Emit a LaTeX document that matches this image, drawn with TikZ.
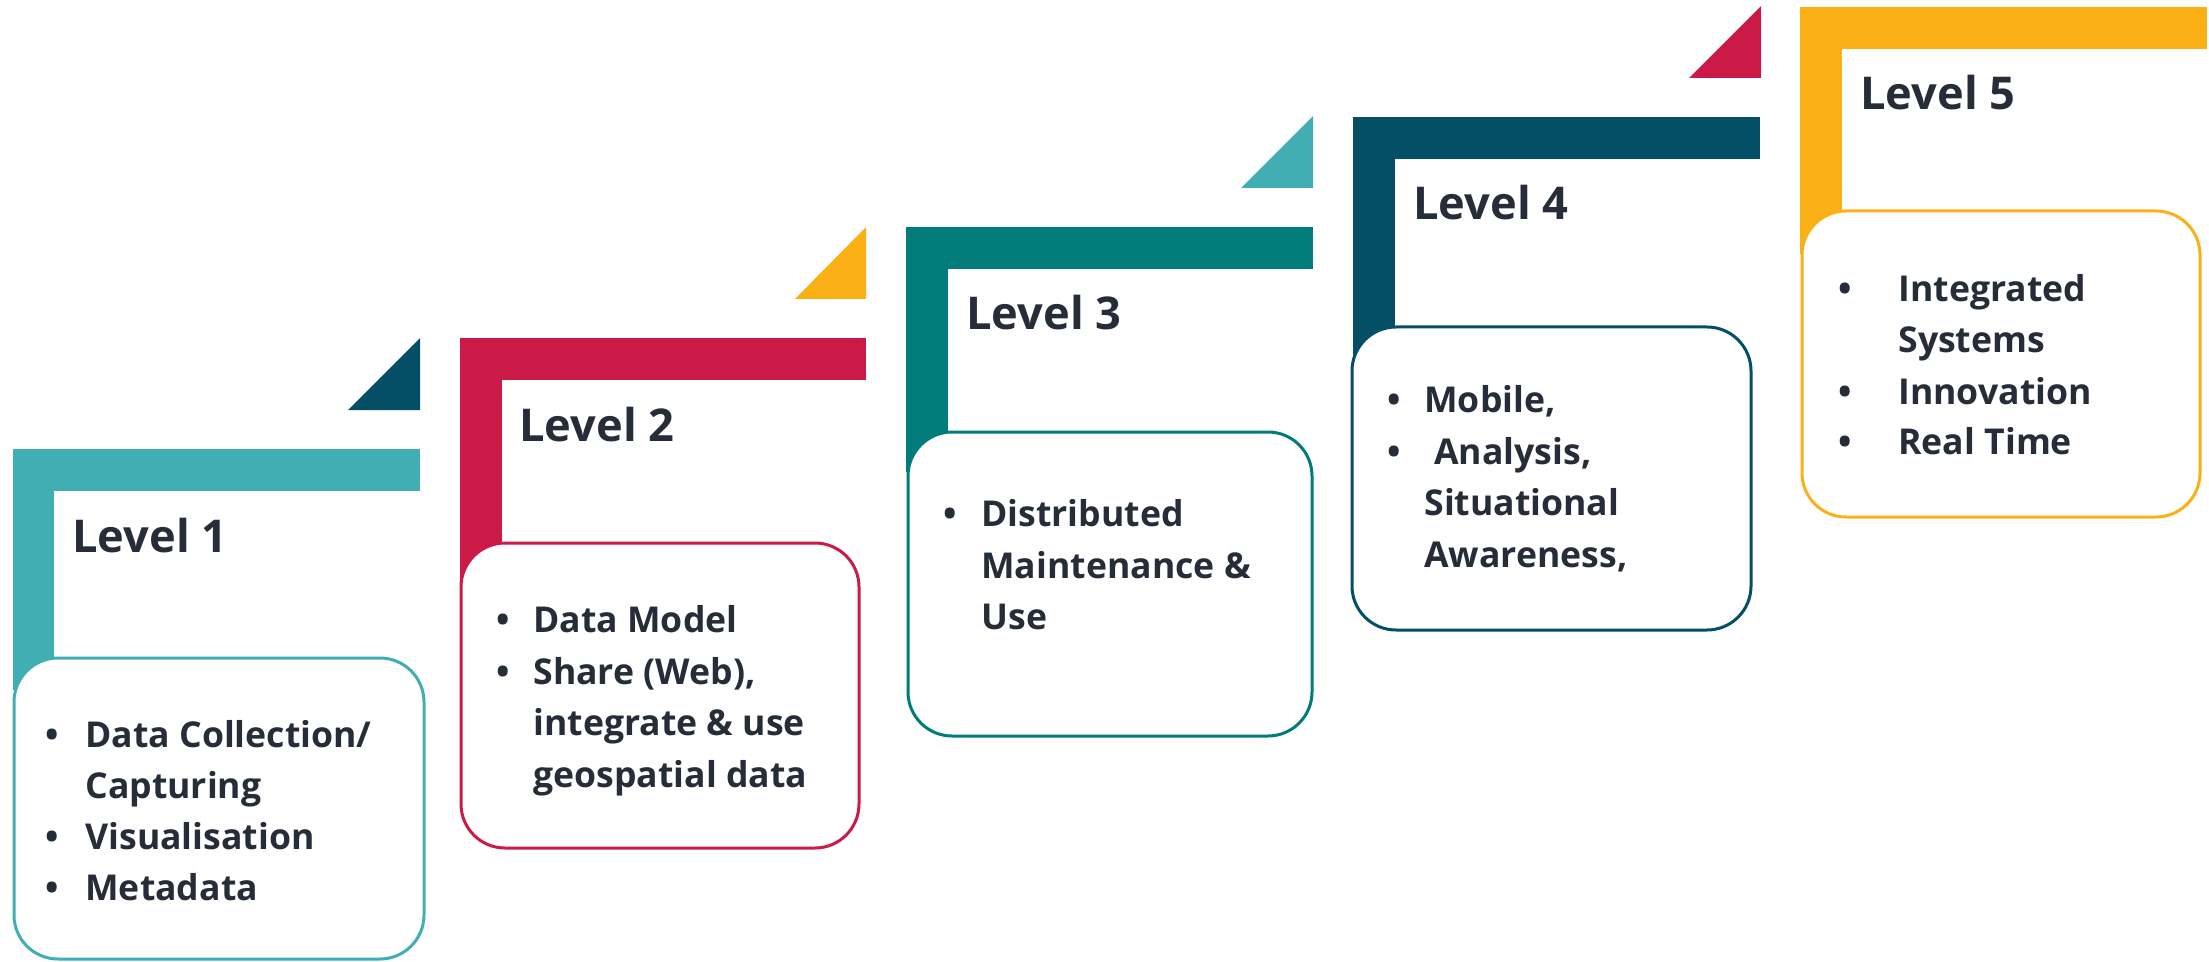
\documentclass[tikz,border=0pt]{standalone}
\usepackage{fontspec}
\setmainfont{Open Sans}
\definecolor{lteal}{HTML}{41AEB4}
\definecolor{crim}{HTML}{CC1A48}
\definecolor{dteal}{HTML}{027B7B}
\definecolor{petrol}{HTML}{054F66}
\definecolor{amber}{HTML}{FBB116}
\definecolor{ink}{HTML}{262D38}
\begin{document}
\begin{tikzpicture}[x=0.5pt,y=-0.5pt,
  box/.style={draw, line width=1.5pt, fill=white, rounded corners=22pt},
  head/.style={anchor=base west, inner sep=0, font=\bfseries\fontsize{22.6}{27}\selectfont, text=ink},
  item/.style={anchor=base west, inner sep=0, font=\bfseries\fontsize{17.8}{25.5}\selectfont, text=ink},
  dot/.style={anchor=base, inner sep=0, font=\bfseries\fontsize{17.8}{25.5}\selectfont, text=ink}]
\useasboundingbox (0,0) rectangle (2209,962);
% ---------- Level 1
\fill[lteal] (13,449) rectangle (420,491);
\fill[lteal] (13,449) rectangle (54,690);
\fill[petrol] (348,410) -- (420,410) -- (420,338) -- cycle;
\draw[box, draw=lteal] (14,658) rectangle (424,959);
\node[head] (h1) at (72,552) {Level 1};
\node[dot] (b11) at (52,747) {•};
\node[item] (t11) at (85,747) {Data Collection/};
\node[item] (t12) at (85,798) {Capturing};
\node[dot] (b12) at (52,849) {•};
\node[item] (t13) at (85,849) {Visualisation};
\node[dot] (b13) at (52,900) {•};
\node[item] (t14) at (85,900) {Metadata};
% ---------- Level 2
\fill[crim] (460,338) rectangle (866,380);
\fill[crim] (460,338) rectangle (502,581);
\fill[amber] (795,299) -- (866,299) -- (866,227) -- cycle;
\draw[box, draw=crim] (461,543) rectangle (859,848);
\node[head] (h2) at (519,441) {Level 2};
\node[dot] (b21) at (503,632) {•};
\node[item] (t21) at (533,632) {Data Model};
\node[dot] (b22) at (503,684) {•};
\node[item] (t22) at (533,684) {Share (Web),};
\node[item] (t23) at (533,735) {integrate \& use};
\node[item] (t24) at (533,787) {geospatial data};
% ---------- Level 3
\fill[dteal] (906,227) rectangle (1313,269);
\fill[dteal] (906,227) rectangle (948,472);
\fill[lteal] (1241,188) -- (1313,188) -- (1313,116) -- cycle;
\draw[box, draw=dteal] (908,432) rectangle (1312,736);
\node[head] (h3) at (966,330) {Level 3};
\node[dot] (b31) at (950,526) {•};
\node[item] (t31) at (981,526) {Distributed};
\node[item] (t32) at (981,578) {Maintenance \&};
\node[item] (t33) at (981,629) {Use};
% ---------- Level 4
\fill[petrol] (1353,117) rectangle (1760,159);
\fill[petrol] (1353,117) rectangle (1395,363);
\fill[crim] (1689,78) -- (1761,78) -- (1761,6) -- cycle;
\draw[box, draw=petrol] (1352,327) rectangle (1751,630);
\node[head] (h4) at (1413,220) {Level 4};
\node[dot] (b41) at (1394,412) {•};
\node[item] (t41) at (1424,412) {Mobile,};
\node[dot] (b42) at (1394,464) {•};
\node[item] (t42) at (1434,464) {Analysis,};
\node[item] (t43) at (1424,515) {Situational};
\node[item] (t44) at (1424,567) {Awareness,};
% ---------- Level 5
\fill[amber] (1800,7) rectangle (2207,49);
\fill[amber] (1800,7) rectangle (1842,254);
\draw[box, draw=amber] (1802,211) rectangle (2200,517);
\node[head] (h5) at (1860,110) {Level 5};
\node[dot] (b51) at (1845,302) {•};
\node[item] (t51) at (1898,302) {Integrated};
\node[item] (t52) at (1898,353) {Systems};
\node[dot] (b52) at (1845,404) {•};
\node[item] (t53) at (1898,404) {Innovation};
\node[dot] (b53) at (1845,454) {•};
\node[item] (t54) at (1898,454) {Real Time};
\end{tikzpicture}
\end{document}
